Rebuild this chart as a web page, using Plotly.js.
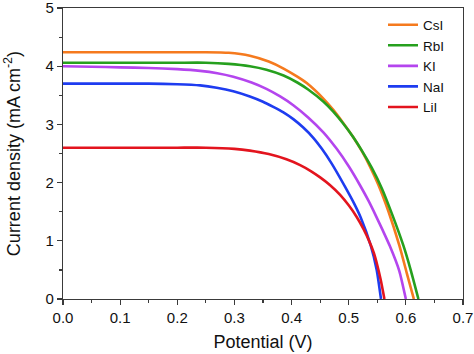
<!DOCTYPE html>
<html>
<head>
<meta charset="utf-8">
<script src="https://cdn.plot.ly/plotly-3.0.1.min.js"></script>
<style>html,body{margin:0;padding:0;background:#fff;}#chart{width:474px;height:354px;}</style>
</head>
<body>
<div id="chart"></div>
<script>
// Series names
const seriesNames = ["CsI", "RbI", "KI", "NaI", "LiI"];

// Potential (V) and current density (mA cm^-2) per series
const csiV = [0, 0.05, 0.1, 0.15, 0.2, 0.25, 0.29, 0.327, 0.36, 0.386, 0.41, 0.4265, 0.456, 0.473, 0.49, 0.508, 0.523, 0.537, 0.552, 0.569, 0.5886, 0.6015, 0.614];
const csiJ = [4.24, 4.24, 4.24, 4.24, 4.24, 4.24, 4.23, 4.18, 4.08, 3.96, 3.82, 3.71, 3.44, 3.25, 3.03, 2.78, 2.54, 2.28, 1.96, 1.52, 0.92, 0.45, 0];

const rbiV = [0, 0.1, 0.2, 0.25, 0.29, 0.327, 0.356, 0.386, 0.41, 0.429, 0.456, 0.473, 0.49, 0.508, 0.523, 0.54, 0.558, 0.575, 0.5956, 0.609, 0.622];
const rbiJ = [4.06, 4.06, 4.06, 4.06, 4.04, 4.00, 3.94, 3.84, 3.72, 3.60, 3.39, 3.22, 3.02, 2.78, 2.55, 2.26, 1.90, 1.48, 0.92, 0.48, 0];

const kiV = [0, 0.05, 0.1, 0.15, 0.2, 0.24, 0.27, 0.298, 0.33, 0.356, 0.38, 0.403, 0.429, 0.456, 0.479, 0.50, 0.52, 0.535, 0.548, 0.56, 0.572, 0.5886, 0.600];
const kiJ = [4.00, 3.99, 3.98, 3.97, 3.95, 3.92, 3.88, 3.82, 3.72, 3.61, 3.48, 3.33, 3.12, 2.86, 2.58, 2.28, 1.95, 1.68, 1.42, 1.17, 0.91, 0.48, 0];

const naiV = [0, 0.1, 0.15, 0.2, 0.24, 0.269, 0.298, 0.327, 0.35, 0.368, 0.385, 0.403, 0.42, 0.438, 0.453, 0.47, 0.4935, 0.51, 0.521, 0.5385, 0.549, 0.5565];
const naiJ = [3.70, 3.70, 3.70, 3.69, 3.67, 3.63, 3.57, 3.48, 3.39, 3.30, 3.21, 3.09, 2.95, 2.77, 2.58, 2.33, 1.93, 1.63, 1.40, 0.92, 0.50, 0];

const liiV = [0, 0.1, 0.2, 0.25, 0.3, 0.327, 0.36, 0.391, 0.415, 0.435, 0.45, 0.467, 0.485, 0.5, 0.514, 0.526, 0.536, 0.544, 0.550, 0.556, 0.5625];
const liiJ = [2.60, 2.60, 2.60, 2.60, 2.58, 2.55, 2.49, 2.40, 2.30, 2.19, 2.09, 1.96, 1.79, 1.61, 1.41, 1.20, 0.99, 0.79, 0.58, 0.33, 0];

const seriesV = [csiV, rbiV, kiV, naiV, liiV];
const seriesJ = [csiJ, rbiJ, kiJ, naiJ, liiJ];
const colors = ["#f57a1e", "#26a01e", "#b445ee", "#1e3cf0", "#e3141e"];

const xTickVals = [0, 0.1, 0.2, 0.3, 0.4, 0.5, 0.6, 0.7];
const xTickText = ["0.0", "0.1", "0.2", "0.3", "0.4", "0.5", "0.6", "0.7"];
const yTickVals = [0, 1, 2, 3, 4, 5];

const FONT = "'Liberation Sans', Arial, sans-serif";

const traces = seriesNames.map((name, i) => ({
  x: seriesV[i],
  y: seriesJ[i],
  name: name,
  type: "scatter",
  mode: "lines",
  line: {color: colors[i], width: 2.6, shape: "spline", smoothing: 0.5}
}));

const axisCommon = {
  showgrid: false,
  zeroline: false,
  showline: true,
  linecolor: "#3a3a3a",
  linewidth: 1.2,
  mirror: true,
  ticks: "outside",
  ticklen: 5,
  tickwidth: 1.2,
  tickcolor: "#3a3a3a",
  ticklabeloverflow: "allow",
  tickfont: {family: FONT, size: 15, color: "#111"},
};

const layout = {
  width: 474,
  height: 354,
  margin: {l: 63, r: 11, t: 8, b: 55},
  paper_bgcolor: "#fff",
  plot_bgcolor: "#fff",
  showlegend: true,
  legend: {
    x: 0.80, xanchor: "left",
    y: 0.995, yanchor: "top",
    bgcolor: "rgba(0,0,0,0)",
    font: {family: FONT, size: 13.5, color: "#111"},
    tracegroupgap: 0
  },
  xaxis: Object.assign({}, axisCommon, {
    range: [0, 0.7],
    tickvals: xTickVals,
    ticktext: xTickText,
    minor: {dtick: 0.05, ticks: "outside", ticklen: 3, tickwidth: 1.2, tickcolor: "#3a3a3a"},
    title: {text: "Potential (V)", font: {family: FONT, size: 18, color: "#111"}, standoff: 10}
  }),
  yaxis: Object.assign({}, axisCommon, {
    range: [0, 5],
    tickvals: yTickVals,
    minor: {dtick: 0.5, ticks: "outside", ticklen: 3, tickwidth: 1.2, tickcolor: "#3a3a3a"},
    title: {text: "Current density (mA cm<sup>-2</sup>)", font: {family: FONT, size: 18, color: "#111"}, standoff: 20}
  })
};

Plotly.newPlot("chart", traces, layout, {displayModeBar: false, staticPlot: true});
</script>
</body>
</html>
